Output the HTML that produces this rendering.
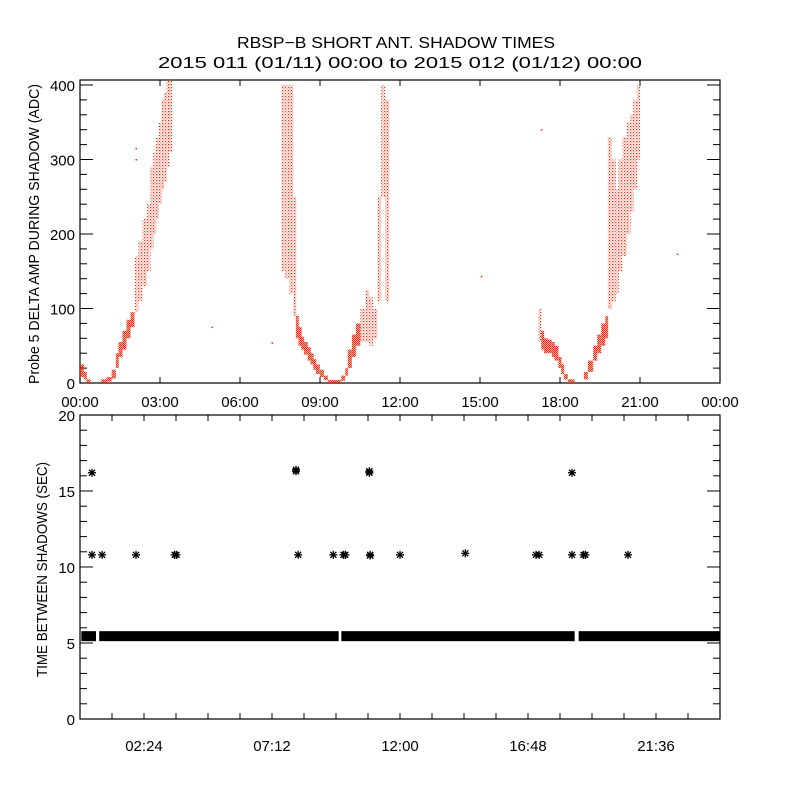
<!DOCTYPE html>
<html><head><meta charset="utf-8"><style>
html,body{margin:0;padding:0;background:#fff}
svg{display:block}
text{font-family:"Liberation Sans",sans-serif;font-size:15px;fill:#000}
</style></head><body>
<svg id="c" width="800" height="800" xmlns="http://www.w3.org/2000/svg">
<defs>
<pattern id="dots" width="3" height="3" patternUnits="userSpaceOnUse"><rect x="0" y="0" width="1.2" height="1.2" fill="#ff2000"/><rect x="1.5" y="1.5" width="1" height="1" fill="#ff2000"/></pattern>
<pattern id="dense" width="2" height="2" patternUnits="userSpaceOnUse"><rect x="0" y="0" width="1.3" height="1.3" fill="#ff2000"/><rect x="1" y="1" width="1" height="1" fill="#ff2000"/></pattern>
</defs>
<text x="237" y="48" textLength="318" lengthAdjust="spacingAndGlyphs" style="font-size:16px">RBSP−B SHORT ANT. SHADOW TIMES</text>
<text x="158" y="68" textLength="484" lengthAdjust="spacingAndGlyphs" style="font-size:16px">2015 011 (01/11) 00:00 to 2015 012 (01/12) 00:00</text>
<text transform="translate(39,384) rotate(-90)" textLength="300" lengthAdjust="spacingAndGlyphs">Probe 5 DELTA AMP DURING SHADOW (ADC)</text>
<text transform="translate(47,677) rotate(-90)" textLength="215" lengthAdjust="spacingAndGlyphs">TIME BETWEEN SHADOWS (SEC)</text>
<g id="topPanel"></g>
<g id="botPanel"></g>
</svg>
<script>
// Top panel: amplitude bands (hour, low, high)
const ampHours = [0.05,0.2,0.3,0.85,1.05,1.24,1.4,1.5,1.65,1.8,1.95,2.1,2.25,2.4,2.55,2.7,2.8,2.9,3.0,3.1,3.2,3.3,3.37,
 7.6,7.75,7.9,8.05,8.15,8.25,8.35,8.45,8.6,8.7,8.8,8.9,9.05,9.2,9.35,9.5,
 9.85,10.0,10.1,10.25,10.4,10.57,10.75,10.9,11.05,11.2,11.35,11.5,
 17.25,17.35,17.45,17.6,17.75,17.85,18.0,18.1,18.2,18.35,18.45,
 18.95,19.1,19.3,19.45,19.6,19.75,19.85,20.0,20.15,20.25,20.4,20.55,20.7,20.8,20.95,21.05];
const ampLow = [8,5,0,0,2,6,20,35,45,60,75,95,110,130,150,180,200,220,240,260,270,290,310,
 150,140,120,90,60,50,45,38,30,25,18,12,8,4,0,
 0,3,10,20,35,50,55,55,50,60,110,250,
 110,55,45,40,40,35,30,20,12,5,0,
 0,5,15,30,40,50,60,100,110,120,150,170,200,230,260,300];
const ampHigh = [25,15,5,5,8,18,40,55,70,85,95,170,190,220,240,290,310,330,350,380,390,405,410,
 400,400,400,250,90,75,62,55,48,40,32,25,18,10,4,
 4,10,20,45,65,80,100,125,115,100,250,400,
 380,100,70,60,58,55,50,35,25,12,5,
 5,15,30,50,65,80,90,330,300,260,300,330,350,360,380,400];
const singleHours = [4.95,7.2,15.05,22.4,2.1,2.1,17.3];
const singleValues = [75,54,143,173,300,315,340];

// Bottom panel: baseline band segments and outliers
const bandStart = [0.05,0.72,9.8,18.7];
const bandEnd = [0.6,9.7,18.55,24.0];
const bandValue = [5.45,5.45,5.45,5.45];
const outHours = [0.45,0.45,0.83,2.1,3.55,3.62,8.1,8.1,8.18,9.5,9.88,9.95,10.85,10.85,10.88,10.88,12.0,14.45,17.1,17.22,18.45,18.45,18.88,18.95,20.55];
const outValues = [16.2,10.8,10.8,10.8,10.8,10.8,16.3,16.4,10.8,10.8,10.8,10.8,16.3,16.2,10.8,10.75,10.8,10.9,10.8,10.8,10.8,16.2,10.8,10.8,10.8];

const topTicks = ["00:00","03:00","06:00","09:00","12:00","15:00","18:00","21:00","00:00"];
const topYTicks = [0,100,200,300,400];
const botXTicks = ["02:24","07:12","12:00","16:48","21:36"];
const botYTicks = [0,5,10,15,20];

const NS="http://www.w3.org/2000/svg";
function mk(tag,attrs,parent){const e=document.createElementNS(NS,tag);for(const k in attrs)e.setAttribute(k,attrs[k]);parent.appendChild(e);return e;}
const X0=80,X1=720;
const xs=h=>X0+h*(X1-X0)/24;
const T0=383,T1=80, yTop=v=>383-v*0.745;
const B0=719,B1=415, yBot=v=>B0-v*(B0-B1)/20;

const topG=document.getElementById('topPanel'), botG=document.getElementById('botPanel');

// top frame
let f=mk('rect',{x:X0,y:T1,width:X1-X0,height:T0-T1,fill:'none',stroke:'#000','stroke-width':1.2},topG);


topTicks.forEach((t,i)=>{const x=X0+i*80;
 mk('line',{x1:x,y1:T0,x2:x,y2:T0-6,stroke:'#000'},topG);mk('line',{x1:x,y1:T1,x2:x,y2:T1+6,stroke:'#000'},topG);
 const tx=mk('text',{x:x,y:407,'text-anchor':'middle'},topG);tx.textContent=t;
 
 });
for(let v=0;v<=400;v+=20){const y=yTop(v),L=(v%100===0)?13:7;
 mk('line',{x1:X0,y1:y,x2:X0+L,y2:y,stroke:'#000'},topG);mk('line',{x1:X1,y1:y,x2:X1-L,y2:y,stroke:'#000'},topG);}
topYTicks.forEach(v=>{const tx=mk('text',{x:75,y:yTop(v)+6,'text-anchor':'end'},topG);tx.textContent=v;
 
 });
ampHours.forEach((h,i)=>{const y1=yTop(Math.min(ampHigh[i],407)),y2=yTop(ampLow[i]);
 const dense=(ampHigh[i]-ampLow[i])<40;
 let w=4;
 if(i+1<ampHours.length && ampHours[i+1]-h<0.4) w=Math.max(3,xs(ampHours[i+1])-xs(h));
 const r=mk('rect',{x:xs(h)-1.5,y:y1,width:w,height:Math.max(2,y2-y1),fill:dense?'url(#dense)':'url(#dots)'},topG);
 
 });
singleHours.forEach((h,i)=>{const r=mk('rect',{x:xs(h)-0.5,y:yTop(singleValues[i])-0.5,width:1.5,height:1.5,fill:'#ff2000'},topG);
 
 });

// bottom frame
f=mk('rect',{x:X0,y:B1,width:X1-X0,height:B0-B1,fill:'none',stroke:'#000','stroke-width':1.2},botG);


for(let h=1.2;h<24;h+=1.2){const x=xs(h);
 mk('line',{x1:x,y1:B0,x2:x,y2:B0-6,stroke:'#000'},botG);mk('line',{x1:x,y1:B1,x2:x,y2:B1+6,stroke:'#000'},botG);}
botXTicks.forEach((t,i)=>{const tx=mk('text',{x:xs(2.4+4.8*i),y:751,'text-anchor':'middle'},botG);tx.textContent=t;
 
 });
for(let v=0;v<=20;v++){const y=yBot(v),L=(v%5===0)?13:7;
 mk('line',{x1:X0,y1:y,x2:X0+L,y2:y,stroke:'#000'},botG);mk('line',{x1:X1,y1:y,x2:X1-L,y2:y,stroke:'#000'},botG);}
botYTicks.forEach(v=>{const tx=mk('text',{x:75,y:yBot(v)+6,'text-anchor':'end'},botG);tx.textContent=v;
 
 });
bandStart.forEach((s,i)=>{const y=yBot(bandValue[i]);
 const r=mk('rect',{x:xs(s),y:y-5,width:xs(bandEnd[i])-xs(s),height:10,fill:'#000'},botG);
 
 });
function star(cx,cy){const g=mk('g',{stroke:'#000','stroke-width':1.3},botG);
 mk('line',{x1:cx-4,y1:cy,x2:cx+4,y2:cy},g);mk('line',{x1:cx,y1:cy-4,x2:cx,y2:cy+4},g);
 mk('line',{x1:cx-3,y1:cy-3,x2:cx+3,y2:cy+3},g);mk('line',{x1:cx-3,y1:cy+3,x2:cx+3,y2:cy-3},g);return g;}
outHours.forEach((h,i)=>{const g=star(xs(h),yBot(outValues[i]));
 
 });
</script>
</body></html>
